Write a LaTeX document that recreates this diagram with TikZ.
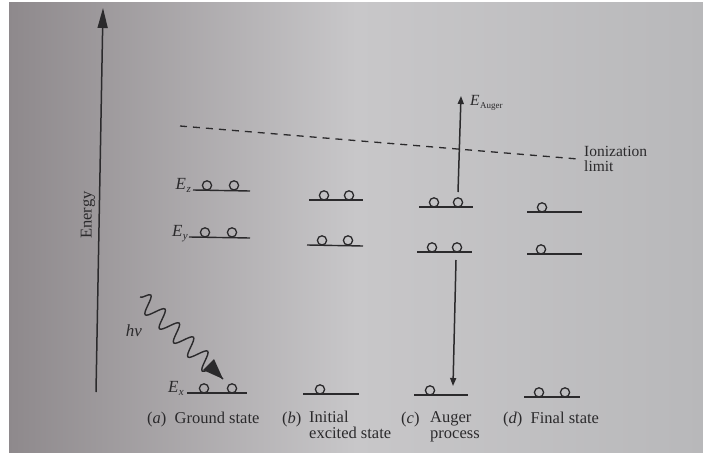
\documentclass[tikz,border=0pt]{standalone}
\usepackage{fontspec}
\setmainfont{Liberation Serif}
\usetikzlibrary{arrows.meta,decorations.pathmorphing}
\definecolor{ink}{HTML}{2B2A2C}
\definecolor{paperA}{HTML}{8E898C}
\definecolor{paperB}{HTML}{C8C7C9}
\definecolor{paperC}{HTML}{B8B8BA}
\tikzset{
  lvl/.style={draw=ink,line width=1.4pt},
  elec/.style={draw=ink,line width=1.3pt},
  lab/.style={text=ink,font=\fontsize{15.5}{18}\selectfont,inner sep=0pt},
  elab/.style={text=ink,font=\fontsize{17}{19}\selectfont,inner sep=0pt},
  captxt/.style={text=ink,font=\fontsize{16.5}{19}\selectfont,inner sep=0pt},
  arr/.style={draw=ink,line width=1.5pt,-{Triangle[length=8pt,width=6pt]}},
}
\newcommand{\elecat}[2]{\draw[elec] (#1,#2-4.6) circle[radius=4.6];}
\newcommand{\Elab}[1]{\textit{E}\kern0.5pt\raisebox{-3pt}{\fontsize{11}{12}\selectfont\textit{#1}}}
\begin{document}
\begin{tikzpicture}[x=1pt,y=-1pt]
\useasboundingbox (0,0) rectangle (703,452);
\fill[white] (0,0) rectangle (703,452);
\shade[left color=paperA,right color=paperC,middle color=paperB,shading angle=90] (9,3) rectangle (703,452);
% energy axis
\coordinate (ax0) at (96,392);
\coordinate (ax1) at (103,8);
\draw[draw=ink,line width=1.5pt,-{Triangle[length=20pt,width=10pt]}] (ax0) -- (ax1);
\node[captxt,rotate=90] (energy) at (88,215) {Energy};
% ionization limit
\coordinate (ion0) at (180,126);
\coordinate (ion1) at (578,159);
\draw[draw=ink,line width=1.3pt,dash pattern=on 7pt off 6pt] (ion0) -- (ion1);
\node[lab,anchor=north west,align=left] (ionlab) at (584,146) {Ionization\\[-3pt]limit};
% (a) ground state
\node[elab,anchor=base east] (Ez) at (191,189) {\Elab{z}};
\draw[lvl] (193,190) -- (250,191);
\elecat{207}{190}\elecat{234}{190}
\node[elab,anchor=base east] (Ey) at (188,236) {\Elab{y}};
\draw[lvl] (189,237) -- (250,238);
\elecat{205}{237}\elecat{232}{237}
\node[elab,anchor=base east] (Ex) at (184,392) {\Elab{x}};
\draw[lvl] (187,393) -- (247,393);
\elecat{204}{393}\elecat{232}{393}
% photon
\coordinate (ph0) at (140,297);
\coordinate (ph1) at (223,379);
\draw[draw=ink,line width=1.4pt,decorate,decoration={snake,segment length=20pt,amplitude=9pt,post length=10pt}] (ph0) -- (ph1);
\fill[ink] (223,379) -- (203,370) -- (214,359) -- cycle;
\node[elab] (hv) at (134,331) {\textit{hν}};
% (b) initial excited state
\draw[lvl] (309,200) -- (363,200);
\elecat{324}{200}\elecat{349}{200}
\draw[lvl] (307,245) -- (363,246);
\elecat{322}{245}\elecat{348}{245}
\draw[lvl] (303,394) -- (359,394);
\elecat{320}{394}
% (c) Auger process
\draw[lvl] (419,207) -- (473,207);
\elecat{434}{207}\elecat{458}{207}
\draw[lvl] (417,252) -- (472,252);
\elecat{432}{252}\elecat{457}{252}
\draw[lvl] (414,395) -- (468,395);
\elecat{430}{395}
\coordinate (au0) at (458,192);
\coordinate (au1) at (461,96);
\draw[arr] (au0) -- (au1);
\node[lab,anchor=base west] (eaug) at (470,105) {\textit{E}\kern0.5pt\raisebox{-3pt}{\fontsize{9}{10}\selectfont Auger}};
\coordinate (dn0) at (456,260);
\coordinate (dn1) at (453,386);
\draw[arr] (dn0) -- (dn1);
% (d) final state
\draw[lvl] (527,212) -- (582,212);
\elecat{542}{212}
\draw[lvl] (527,254) -- (582,254);
\elecat{541}{254}
\draw[lvl] (524,397) -- (580,397);
\elecat{539}{397}\elecat{565}{397}
% captions
\node[captxt,anchor=base west] (capa) at (147,423) {(\textit{a})\ \ Ground state};
\node[captxt,anchor=base west] (capb) at (282,423) {(\textit{b})};
\node[captxt,anchor=north west,align=left] (capb2) at (309,411) {Initial\\[-3pt]excited state};
\node[captxt,anchor=base west] (capc) at (401,423) {(\textit{c})};
\node[captxt,anchor=north west,align=left] (capc2) at (430,411) {Auger\\[-3pt]process};
\node[captxt,anchor=base west] (capd) at (503,423) {(\textit{d})\ \ Final state};
\end{tikzpicture}
\end{document}
